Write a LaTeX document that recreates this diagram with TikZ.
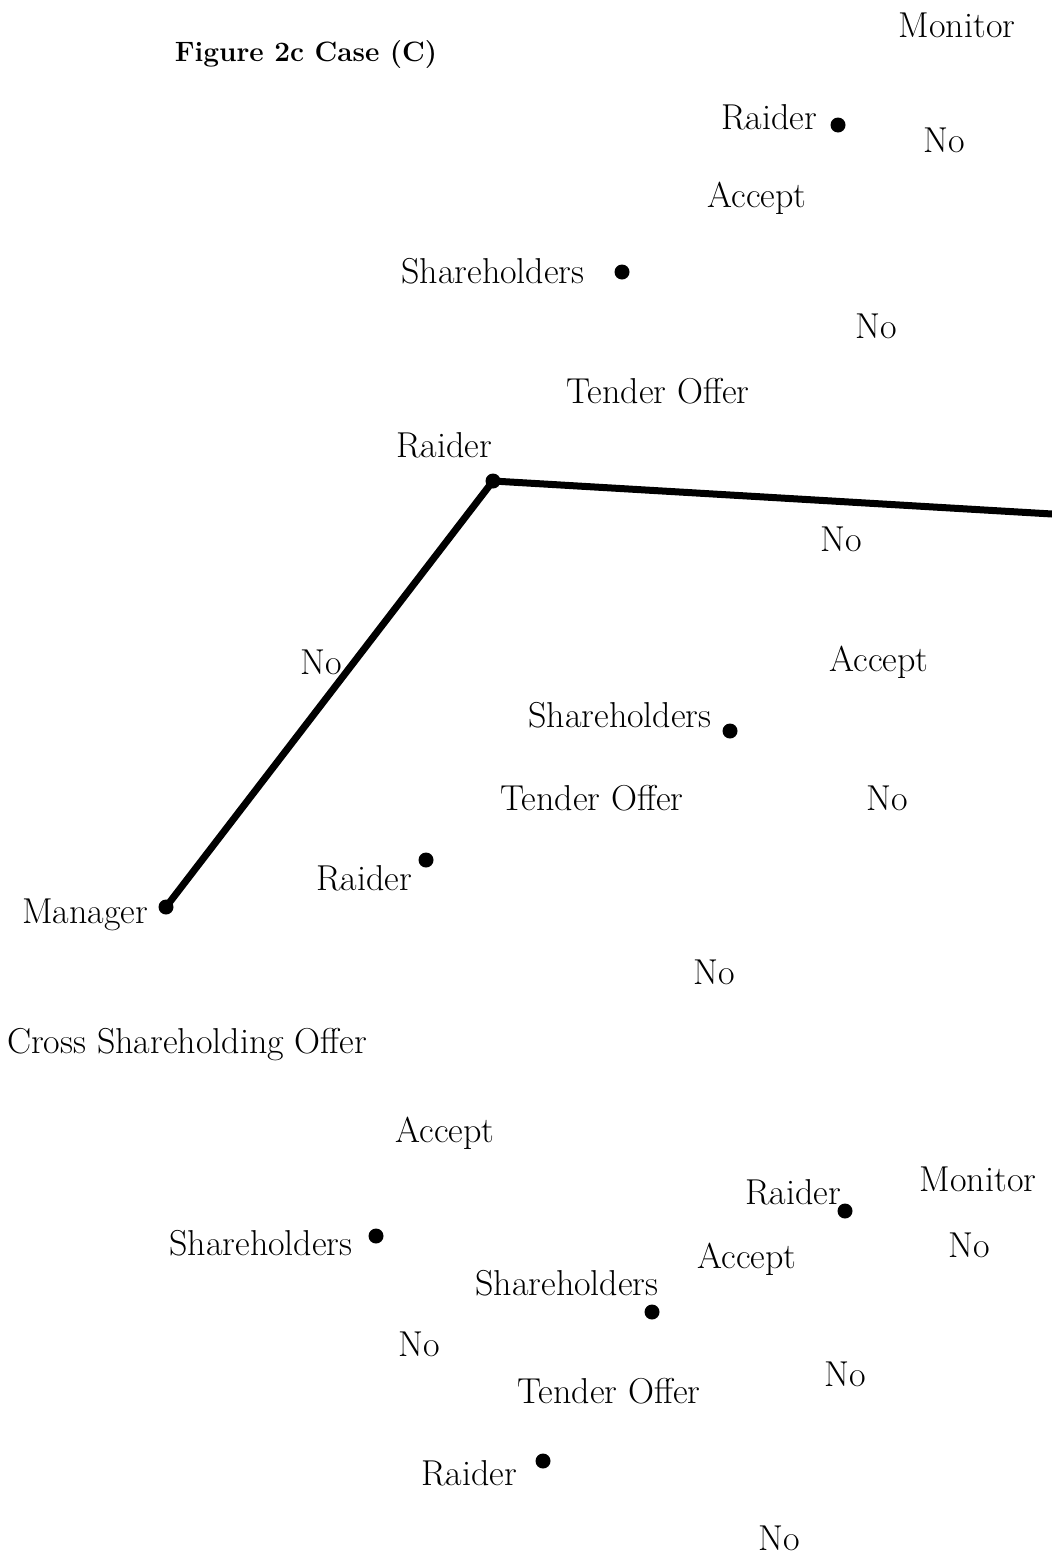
\documentclass[tikz,border=0pt]{standalone}
\begin{document}
\begin{tikzpicture}[x=1pt,y=-1pt,
  lbl/.style={inner sep=0pt,font=\fontsize{36}{42}\selectfont},
  ttl/.style={inner sep=0pt,font=\fontsize{28}{33}\selectfont\bfseries},
  dot/.style={circle,fill=black,inner sep=0pt,minimum size=15pt},
  branch/.style={line width=7pt,line cap=round,line join=round}]
\useasboundingbox[fill=white] (0,0) rectangle (1052,1558);

% title
\node[ttl] (title) at (306,55) {Figure 2c Case (C)};

% decision points
\node[dot] (mgr)  at (166,907) {};
\node[dot] (r1)   at (493,481) {};
\node[dot] (sh1)  at (622,272) {};
\node[dot] (r2)   at (838,125) {};
\node[dot] (sh2)  at (730,731) {};
\node[dot] (r3)   at (426,860) {};
\node[dot] (sh3)  at (376,1236) {};
\node[dot] (sh4)  at (652,1312) {};
\node[dot] (r4)   at (845,1211) {};
\node[dot] (r5)   at (543,1461) {};
\coordinate (edge) at (1052,514);

% visible branches
\draw[branch] (mgr.center) -- (r1.center);
\draw[branch] (r1.center) -- (edge);

% player names
\node[lbl] (tMgr) at (85,915)   {Manager};
\node[lbl] (tR1)  at (444,445)  {Raider};
\node[lbl] (tSh1) at (493,271)  {Shareholders};
\node[lbl] (tR2)  at (769,117)  {Raider};
\node[lbl] (tSh2) at (620,715)  {Shareholders};
\node[lbl] (tR3)  at (364,878)  {Raider};
\node[lbl] (tSh3) at (261,1243) {Shareholders};
\node[lbl] (tSh4) at (567,1283) {Shareholders};
\node[lbl] (tR4)  at (793,1192) {Raider};
\node[lbl] (tR5)  at (469,1473) {Raider};

% actions
\node[lbl] (aMon1) at (957,25)   {Monitor};
\node[lbl] (aNo1)  at (944,140)  {No};
\node[lbl] (aAc1)  at (757,198)  {Accept};
\node[lbl] (aNo2)  at (876,326)  {No};
\node[lbl] (aTO1)  at (658,391)  {Tender Offer};
\node[lbl] (aNo3)  at (841,539)  {No};
\node[lbl] (aNo4)  at (321,662)  {No};
\node[lbl] (aAc2)  at (879,662)  {Accept};
\node[lbl] (aTO2)  at (592,798)  {Tender Offer};
\node[lbl] (aNo5)  at (887,798)  {No};
\node[lbl] (aNo6)  at (714,972)  {No};
\node[lbl] (aCSO)  at (187,1045) {Cross Shareholding Offer};
\node[lbl] (aAc3)  at (445,1133) {Accept};
\node[lbl] (aMon2) at (978,1179) {Monitor};
\node[lbl] (aAc4)  at (747,1259) {Accept};
\node[lbl] (aNo7)  at (969,1245) {No};
\node[lbl] (aNo8)  at (419,1344) {No};
\node[lbl] (aTO3)  at (609,1391) {Tender Offer};
\node[lbl] (aNo9)  at (845,1374) {No};
\node[lbl] (aNo10) at (779,1538) {No};
\end{tikzpicture}
\end{document}
